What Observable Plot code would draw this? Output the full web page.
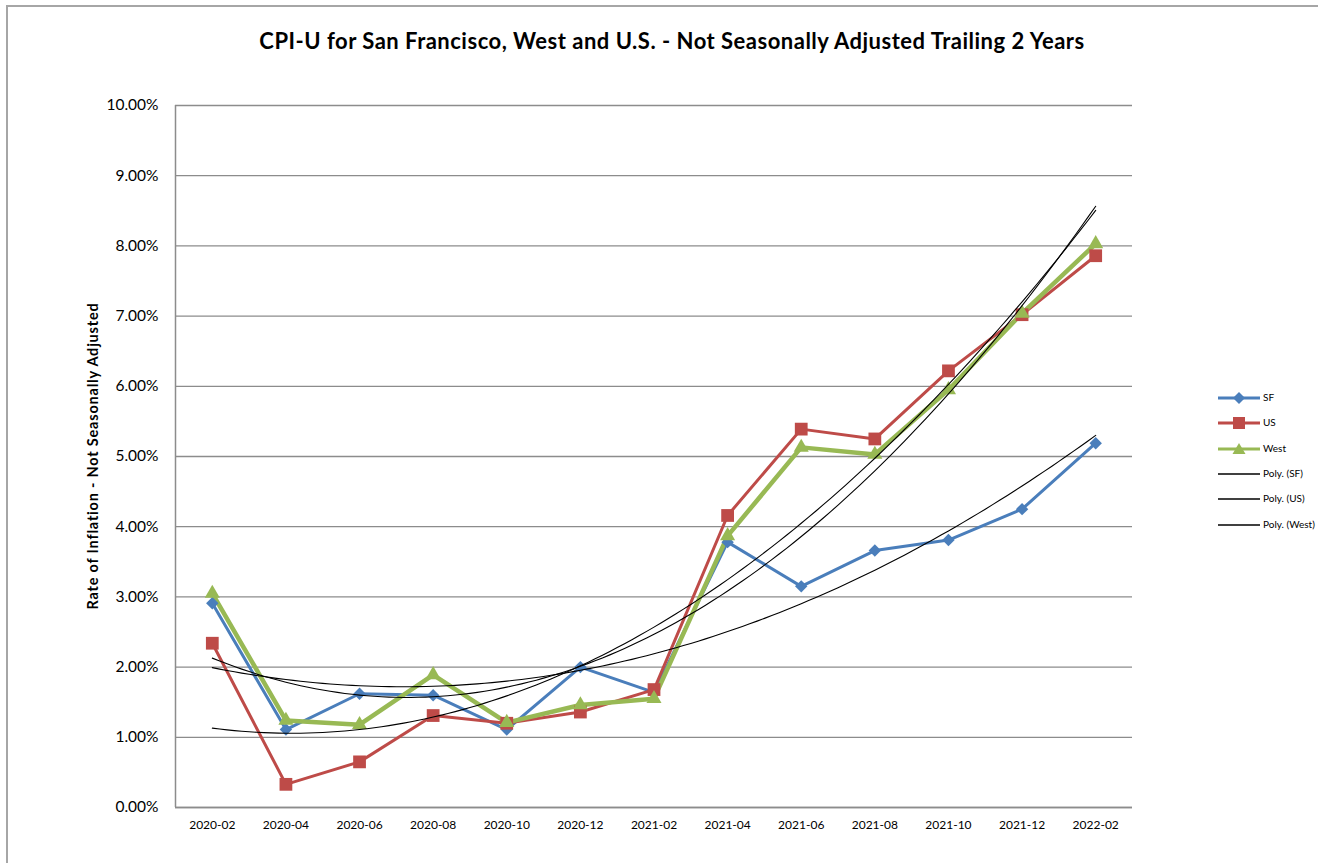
<!DOCTYPE html>
<html>
<head>
<meta charset="utf-8">
<script src="https://cdn.jsdelivr.net/npm/d3@7"></script>
<script src="https://cdn.jsdelivr.net/npm/@observablehq/plot@0.6"></script>
<style>
  html, body { margin: 0; padding: 0; background: #fff; }
  #wrap { position: relative; width: 1318px; height: 863px; overflow: hidden; font-family: Lato, "Open Sans", sans-serif; }
  #frame { position: absolute; left: 6px; top: 5px; width: 1330px; height: 900px; border-top: 2px solid #a6a6a6; border-left: 2px solid #a6a6a6; box-sizing: border-box; }
  #title { position: absolute; left: 0; width: 1344px; top: 27px; text-align: center; font-weight: bold; font-size: 22px; letter-spacing: 0.5px; color: #000; white-space: nowrap; }
  #ylabel { position: absolute; left: 92px; top: 456px; transform: translate(-50%, -50%) rotate(-90deg); font-weight: bold; font-size: 14.5px; letter-spacing: 0.8px; white-space: nowrap; color: #000; }
  #chart { position: absolute; left: 0; top: 0; }
  #legend { position: absolute; left: 1212px; top: 388px; }
  .li { position: absolute; left: 0; height: 20px; width: 110px; font-size: 10px; }
  .li svg { position: absolute; left: 0; top: 0; }
  .li span { position: absolute; left: 51px; top: 3px; white-space: nowrap; }
</style>
</head>
<body>
<div id="wrap">
  <div id="frame"></div>
  <div id="chart"></div>
  <div id="title">CPI-U for San Francisco, West and U.S. - Not Seasonally Adjusted Trailing 2 Years</div>
  <div id="ylabel">Rate of Inflation - Not Seasonally  Adjusted</div>
  <div id="legend"></div>
</div>
<script>
const categories = ["2020-02","2020-04","2020-06","2020-08","2020-10","2020-12","2021-02","2021-04","2021-06","2021-08","2021-10","2021-12","2022-02"];
const sfValues   = [2.91,1.11,1.62,1.60,1.11,2.00,1.64,3.78,3.15,3.66,3.81,4.25,5.19];
const usValues   = [2.34,0.33,0.65,1.31,1.20,1.36,1.68,4.16,5.39,5.25,6.22,7.02,7.86];
const westValues = [3.05,1.24,1.18,1.89,1.21,1.46,1.55,3.87,5.13,5.03,5.95,7.04,8.03];
const yTicks = [0,1,2,3,4,5,6,7,8,9,10];
const seriesNames = ["SF","US","West"];
const trendNames = ["Poly. (SF)","Poly. (US)","Poly. (West)"];

const colors = {SF: "#4a7ebb", US: "#be4b48", West: "#98b954"};
const symbols = {SF: "diamond2", US: "square", West: "triangle"};
const radii = {SF: 5.6, US: 7.2, West: 5.6};
const widths = {SF: 3, US: 3, West: 4.5};

const valuesBy = {SF: sfValues, US: usValues, West: westValues};
const rows = seriesNames.flatMap(s => valuesBy[s].map((v, i) => ({series: s, i, v})));

// Excel "Poly." trendline = order-2 least-squares fit of each series
function quadFit(ys) {
  let S = [0,0,0,0,0], T = [0,0,0];
  ys.forEach((y, x) => {
    for (let k = 0; k < 5; k++) S[k] += Math.pow(x, k);
    for (let k = 0; k < 3; k++) T[k] += y * Math.pow(x, k);
  });
  const A = [[S[0],S[1],S[2],T[0]],[S[1],S[2],S[3],T[1]],[S[2],S[3],S[4],T[2]]];
  for (let c = 0; c < 3; c++) {
    for (let r = c + 1; r < 3; r++) {
      const f = A[r][c] / A[c][c];
      for (let k = c; k < 4; k++) A[r][k] -= f * A[c][k];
    }
  }
  const b = [0,0,0];
  for (let r = 2; r >= 0; r--) {
    let s = A[r][3];
    for (let k = r + 1; k < 3; k++) s -= A[r][k] * b[k];
    b[r] = s / A[r][r];
  }
  return x => b[0] + b[1] * x + b[2] * x * x;
}
const trendRows = seriesNames.flatMap(s => {
  const f = quadFit(valuesBy[s]);
  return d3.range(0, 12.0001, 0.1).map(x => ({series: s, x, y: f(x)}));
});

const plot = Plot.plot({
  width: 1318,
  height: 863,
  marginLeft: 175,
  marginRight: 186,
  marginTop: 105,
  marginBottom: 56,
  style: {fontFamily: "Lato, 'Open Sans', sans-serif", background: "transparent", color: "#000"},
  x: {type: "linear", domain: [-0.5, 12.5]},
  y: {domain: [0, 10]},
  marks: [
    Plot.gridY(yTicks, {stroke: "#8c8c8c", strokeOpacity: 1, strokeWidth: 1.3}),
    Plot.ruleX([-0.5], {stroke: "#8c8c8c", strokeWidth: 1.5}),
    Plot.ruleY([0], {stroke: "#8c8c8c", strokeWidth: 1.5}),
    Plot.axisY({ticks: yTicks, tickSize: 0, tickPadding: 17, tickFormat: d => d.toFixed(2) + "%", fontSize: 15.5, label: null}),
    Plot.axisX({ticks: d3.range(categories.length), tickSize: 0, tickPadding: 13, tickFormat: i => categories[i], fontSize: 12, label: null}),
    ...seriesNames.map(s => Plot.line(rows.filter(d => d.series === s), {x: "i", y: "v", stroke: colors[s], strokeWidth: widths[s], strokeLinejoin: "round"})),
    ...seriesNames.map(s => Plot.dot(rows.filter(d => d.series === s), {x: "i", y: "v", symbol: () => symbols[s], fill: colors[s], r: radii[s], stroke: "none"})),
    Plot.line(trendRows, {x: "x", y: "y", z: "series", stroke: "#000", strokeWidth: 1.1, curve: "linear"})
  ]
});
document.getElementById("chart").appendChild(plot);

// legend
const legend = document.getElementById("legend");
const allNames = [...seriesNames, ...trendNames];
const legendY = [0, 25, 51, 76, 101, 127];
const symPath = {
  SF: "M0,-6L6,0L0,6L-6,0Z",
  US: "M-6,-6H6V6H-6Z",
  West: "M0,-6L6.5,5L-6.5,5Z"
};
allNames.forEach((name, k) => {
  const div = document.createElement("div");
  div.className = "li";
  div.style.top = legendY[k] + "px";
  const isSeries = k < 3;
  const col = isSeries ? colors[name] : "#000";
  const sw = isSeries ? 3 : 1.3;
  const sym = isSeries ? `<path transform="translate(27,10)" d="${symPath[name]}" fill="${col}"/>` : "";
  div.innerHTML = `<svg width="50" height="20"><line x1="6" x2="48" y1="10" y2="10" stroke="${col}" stroke-width="${sw}"/>${sym}</svg><span>${name}</span>`;
  legend.appendChild(div);
});
</script>
</body>
</html>
